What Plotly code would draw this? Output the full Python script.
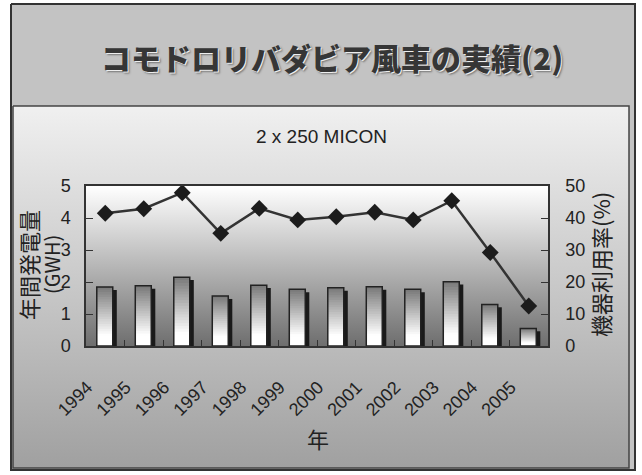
import plotly.graph_objects as go

# ---------------- data ----------------
years = ["1994", "1995", "1996", "1997", "1998", "1999",
         "2000", "2001", "2002", "2003", "2004", "2005"]
generation_gwh = [1.84, 1.88, 2.15, 1.56, 1.90, 1.77,
                  1.82, 1.85, 1.77, 2.01, 1.30, 0.55]
utilization_pct = [41.5, 42.9, 47.9, 35.2, 43.0, 39.4,
                   40.4, 41.8, 39.4, 45.4, 29.2, 12.5]
left_ticks = [0, 1, 2, 3, 4, 5]
right_ticks = [0, 10, 20, 30, 40, 50]

title_text = "コモドロリバダビア風車の実績(2)"
subtitle_text = "2 x 250 MICON"
left_title_1 = "年間発電量"
left_title_2 = "(GWH)"
right_title = "機器利用率(%)"
x_title = "年"

# ---------------- geometry / style ----------------
W, H = 642, 475
PL, PR, PT, PB = 86, 548, 186, 346
CJK = "Noto Sans CJK JP"
LAT = "Liberation Sans"

fig = go.Figure()

# background panels (pixel coordinate subplot)
fig.add_trace(go.Scatter(
    x=[11, 635, 635, 11, 11], y=[4, 4, 470, 470, 4], mode="lines",
    fill="toself", fillcolor="#c3c3c3", line=dict(color="#333333", width=2),
    xaxis="x", yaxis="y", hoverinfo="skip", showlegend=False))
fig.add_trace(go.Scatter(
    x=[13, 629, 629, 13, 13], y=[106, 106, 468, 468, 106], mode="lines",
    fill="toself",
    fillgradient=dict(type="vertical", colorscale=[[0, "#f0f0f0"], [1, "#a0a0a0"]],
                      start=106, stop=468),
    line=dict(color="#444444", width=1.5),
    xaxis="x", yaxis="y", hoverinfo="skip", showlegend=False))
fig.add_trace(go.Scatter(
    x=[PL, PR, PR, PL, PL], y=[PT, PT, PB, PB, PT], mode="lines",
    fill="toself",
    fillgradient=dict(type="vertical", colorscale=[[0, "#ffffff"], [1, "#6e6e6e"]],
                      start=PT, stop=PB),
    line=dict(width=0),
    xaxis="x", yaxis="y", hoverinfo="skip", showlegend=False))

# bars: shadow, gradient layers (tallest/darkest first), outline
BW = 0.415
FRONT_OFF = -0.22
SHADOW_OFF = FRONT_OFF + 0.105
fig.add_trace(go.Bar(
    x=years, y=[v - 0.09 for v in generation_gwh], width=BW, offset=SHADOW_OFF,
    marker=dict(color="#1a1a1a", line=dict(width=0)),
    xaxis="x2", yaxis="y2", hoverinfo="skip", showlegend=False))

NSEG = 24
for k in range(NSEG, 0, -1):
    frac = k / NSEG
    t = (k - 0.5) / NSEG
    f = max(0.0, (t - 0.18) / 0.82)
    g = int(round(255 - 135 * f))
    col = f"rgb({g},{g},{g})"
    fig.add_trace(go.Bar(
        x=years, y=[v * frac for v in generation_gwh],
        width=BW, offset=FRONT_OFF,
        marker=dict(color=col, line=dict(width=0)),
        xaxis="x2", yaxis="y2", hoverinfo="skip", showlegend=False))

fig.add_trace(go.Bar(
    x=years, y=generation_gwh, width=BW, offset=FRONT_OFF,
    marker=dict(color="rgba(0,0,0,0)", line=dict(color="#222222", width=1.5)),
    xaxis="x2", yaxis="y2", name="年間発電量", showlegend=False))

# utilization line
fig.add_trace(go.Scatter(
    x=years, y=utilization_pct, mode="lines+markers",
    line=dict(color="#333333", width=2.5),
    marker=dict(symbol="diamond", size=13, color="#1c1c1c"),
    xaxis="x2", yaxis="y3", name="機器利用率", showlegend=False))

# ---------------- annotations ----------------
def ann(text, px, py, size, angle=0, family=CJK, color="#222222", **kw):
    return dict(text=text, x=px / W, y=1 - py / H, xref="paper", yref="paper",
                xanchor="center", yanchor="middle", showarrow=False,
                textangle=angle, font=dict(family=family, size=size, color=color, **kw))

annotations = [
    ann(title_text, 332, 57, 30, color="#363636", weight=900,
        shadow="1px 1px 0px #eeeeee, 2px 2px 2px #777777"),
    ann(subtitle_text, 321, 137, 19, family=LAT),
    ann(left_title_1, 28, 265, 22, angle=-90),
    ann(left_title_2, 51, 265, 20, angle=-90),
    ann(right_title, 600, 265, 22, angle=-90),
    ann(x_title, 318, 438, 22),
]

fig.update_layout(
    template="none",
    width=W, height=H,
    margin=dict(l=0, r=0, t=0, b=0, pad=0, autoexpand=False),
    paper_bgcolor="#ffffff",
    plot_bgcolor="rgba(0,0,0,0)",
    barmode="overlay",
    showlegend=False,
    annotations=annotations,
    xaxis=dict(domain=[0, 1], range=[0, W], visible=False, fixedrange=True,
               automargin=False),
    yaxis=dict(domain=[0, 1], range=[H, 0], visible=False, fixedrange=True,
               automargin=False),
    xaxis2=dict(domain=[PL / W, PR / W], anchor="y2", type="category",
                range=[-0.5, len(years) - 0.5], automargin=False,
                showline=True, linecolor="#333333", linewidth=1.5, mirror=True,
                ticks="inside", tickson="boundaries", ticklen=6, tickcolor="#333333",
                tickangle=-45, ticklabelstandoff=22, ticklabelshift=-18,
                tickfont=dict(family=LAT, size=18, color="#222222"),
                showgrid=False, zeroline=False),
    yaxis2=dict(domain=[1 - PB / H, 1 - PT / H], anchor="x2", range=[0, 5],
                automargin=False,
                tickvals=left_ticks, ticks="inside", ticklen=7, tickcolor="#333333",
                showline=True, linecolor="#333333", linewidth=1.5, mirror=True,
                ticklabelstandoff=10,
                tickfont=dict(family=LAT, size=18, color="#222222"),
                showgrid=False, zeroline=False),
    yaxis3=dict(overlaying="y2", anchor="x2", side="right", range=[0, 50],
                automargin=False,
                tickvals=right_ticks, ticks="inside", ticklen=7, tickcolor="#333333",
                showline=True, linecolor="#333333", linewidth=1.5,
                ticklabelstandoff=12,
                tickfont=dict(family=LAT, size=18, color="#222222"),
                showgrid=False, zeroline=False),
)

fig.write_html("out.html")
